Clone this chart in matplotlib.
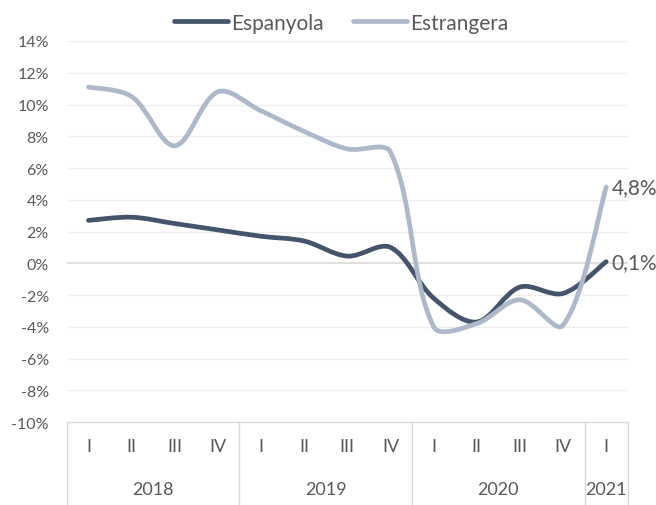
import numpy as np
import matplotlib
matplotlib.use("Agg")
import matplotlib.pyplot as plt
from matplotlib.path import Path
from matplotlib.patches import PathPatch
import matplotlib.transforms as mtransforms

plt.rcParams['font.family'] = ['Lato', 'DejaVu Sans']

trimestres = ["I", "II", "III", "IV", "I", "II", "III", "IV", "I", "II", "III", "IV", "I"]
anys = ["2018", "2019", "2020", "2021"]
n_trim_any = [4, 4, 4, 1]

espanyola = [2.7, 2.9, 2.5, 2.1, 1.7, 1.4, 0.45, 1.0, -2.2, -3.7, -1.5, -1.9, 0.1]
estrangera = [11.1, 10.5, 7.4, 10.8, 9.6, 8.3, 7.2, 7.0, -4.0, -3.8, -2.3, -3.9, 4.8]

gris = "#595959"
c_esp = "#44546A"
c_est = "#ADB9CA"


def corba_suau(ax, x, y):
    # linia suavitzada tipus Excel: Bezier calculada en pixels,
    # amb tangents escalades per la longitud dels trams
    pts = ax.transData.transform(np.column_stack([x, y]))
    n = len(pts)
    lon = np.linalg.norm(np.diff(pts, axis=0), axis=1)
    tang = []
    for i in range(n):
        a = pts[max(i - 1, 0)]
        b = pts[min(i + 1, n - 1)]
        tang.append(b - a)
    verts = [pts[0]]
    codes = [Path.MOVETO]
    for i in range(n - 1):
        l0 = lon[i - 1] if i > 0 else lon[i]
        l2 = lon[i + 1] if i + 1 < n - 1 else lon[i]
        f1 = lon[i] / (l0 + lon[i]) / 3
        f2 = lon[i] / (lon[i] + l2) / 3
        c1 = pts[i] + tang[i] * f1
        c2 = pts[i + 1] - tang[i + 1] * f2
        verts += [c1, c2, pts[i + 1]]
        codes += [Path.CURVE4] * 3
    verts = ax.transData.inverted().transform(np.array(verts))
    return Path(verts, codes)


fig = plt.figure(figsize=(6.56, 5.06), dpi=100)
ax = fig.add_axes([0.102, 0.164, 0.855, 0.753])

x = np.arange(len(trimestres)) + 0.5
ax.set_xlim(0, len(trimestres))
ax.set_ylim(-10, 14)

for v in np.arange(-10, 15, 2):
    ax.axhline(v, color="#D9D9D9" if v == 0 else "#EEEEEE", lw=1.2 if v == 0 else 1.0, zorder=0)

for serie, col, nom in [(espanyola, c_esp, "Espanyola"), (estrangera, c_est, "Estrangera")]:
    ax.add_patch(PathPatch(corba_suau(ax, x, serie), facecolor="none", edgecolor=col,
                           lw=3.4, capstyle="round", zorder=3))
    ax.plot([], [], color=col, lw=3.4, solid_capstyle="round", label=nom)

ax.text(x[-1] + 0.12, estrangera[-1], "4,8%", color=gris, fontsize=15, va="center", ha="left")
ax.text(x[-1] + 0.12, espanyola[-1], "0,1%", color=gris, fontsize=15, va="center", ha="left")

ax.set_yticks(np.arange(-10, 15, 2))
ax.set_yticklabels([f"{v}%" for v in range(-10, 15, 2)], color=gris, fontsize=11.5)
ax.tick_params(axis="y", length=0, pad=13)
ax.set_xticks([])
for s in ax.spines.values():
    s.set_visible(False)

# eix de categories en dos nivells
tr = mtransforms.blended_transform_factory(ax.transData, ax.transAxes)
for xi, t in zip(x, trimestres):
    ax.text(xi, -0.063, t, transform=tr, ha="center", va="center", color=gris, fontsize=13)
inici = 0
ax.plot([0, 0], [0, -0.22], transform=tr, color="#D9D9D9", lw=1, clip_on=False)
for a, n in zip(anys, n_trim_any):
    ax.text(inici + n / 2, -0.176, a, transform=tr, ha="center", va="center", color=gris, fontsize=13)
    inici += n
    ax.plot([inici, inici], [0, -0.22], transform=tr, color="#D9D9D9", lw=1, clip_on=False)
ax.plot([0, len(trimestres)], [0, 0], transform=tr, color="#D9D9D9", lw=1, clip_on=False)

fig.legend(loc="upper center", bbox_to_anchor=(0.52, 1.01), ncol=2, frameon=False,
           fontsize=15, labelcolor=gris, handlelength=2.6, handletextpad=0.15, columnspacing=1.4)

fig.savefig("out.png", dpi=100)
